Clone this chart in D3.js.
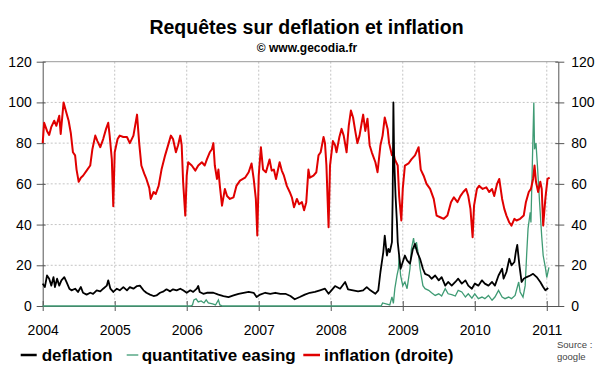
<!DOCTYPE html>
<html>
<head>
<meta charset="utf-8">
<script src="https://cdn.jsdelivr.net/npm/d3@7"></script>
<style>
  body { margin: 0; background: #fff; }
  svg { display: block; font-family: Arial, "Liberation Sans", sans-serif; }
</style>
</head>
<body>
<div id="chart"></div>
<script>
// ---- data (decimal year, value) ----
const years = [2004, 2005, 2006, 2007, 2008, 2009, 2010, 2011];
const yTicks = [0, 20, 40, 60, 80, 100, 120];

const inflation = [
  [2004.00,80],[2004.02,90],[2004.06,86],[2004.09,84],[2004.12,88],[2004.16,91],[2004.19,88.5],[2004.23,93.5],[2004.25,84.5],[2004.29,100],
  [2004.32,96],[2004.36,91],[2004.39,85],[2004.42,75.5],[2004.45,74],[2004.47,67],[2004.50,61],[2004.53,63],[2004.56,64],[2004.61,66.5],
  [2004.66,69],[2004.69,77],[2004.73,83.7],[2004.76,81],[2004.80,78],[2004.84,82],[2004.88,87],[2004.91,90],[2004.93,83.7],[2004.96,72],
  [2004.98,49],[2005.00,75.5],[2005.04,82],[2005.07,83.7],[2005.12,83],[2005.17,83],[2005.21,80],[2005.26,83.7],[2005.31,94],[2005.34,80],
  [2005.37,69],[2005.41,65],[2005.44,62.4],[2005.48,58],[2005.50,52.6],[2005.54,56],[2005.57,55],[2005.61,59],[2005.65,67],[2005.70,74],
  [2005.75,80],[2005.78,83.7],[2005.81,82],[2005.85,75.5],[2005.88,79],[2005.91,83.7],[2005.93,79],[2005.95,61],[2005.98,44.4],[2006.00,64],
  [2006.02,70.6],[2006.07,69],[2006.12,66.5],[2006.16,69],[2006.21,70.6],[2006.25,69],[2006.28,72],[2006.32,75.5],[2006.35,77],[2006.37,80],
  [2006.39,69],[2006.42,62.4],[2006.44,67],[2006.46,59],[2006.49,49.3],[2006.53,57.5],[2006.56,54],[2006.60,52.6],[2006.65,53.4],[2006.69,59],
  [2006.74,61.6],[2006.81,63],[2006.86,65.7],[2006.90,70],[2006.93,62.4],[2006.96,52.6],[2006.98,34.6],[2007.00,64],[2007.03,78],[2007.06,67],
  [2007.10,65.7],[2007.15,72],[2007.18,66.5],[2007.21,67],[2007.24,62.4],[2007.29,70.6],[2007.32,66.5],[2007.35,64],[2007.39,59],[2007.43,56],
  [2007.46,53.4],[2007.49,48.5],[2007.53,52.6],[2007.56,50],[2007.60,51],[2007.63,47],[2007.66,51],[2007.69,67],[2007.71,63],[2007.76,64],
  [2007.80,65.7],[2007.83,74],[2007.86,75.5],[2007.90,83],[2007.92,80],[2007.94,69],[2007.97,38.7],[2007.99,69],[2008.03,81],[2008.06,79],
  [2008.08,75.5],[2008.12,83],[2008.15,87],[2008.18,83.7],[2008.22,75.5],[2008.25,88.5],[2008.28,96],[2008.31,92.6],[2008.34,86],[2008.37,80],
  [2008.40,83.7],[2008.43,90],[2008.45,94],[2008.48,86],[2008.51,92],[2008.54,79],[2008.57,75.5],[2008.62,70.6],[2008.65,65.7],[2008.69,79],
  [2008.72,83.7],[2008.75,92.6],[2008.79,87],[2008.81,80],[2008.85,74],[2008.87,75.5],[2008.89,72],[2008.93,69],[2008.95,54],[2008.98,42],
  [2009.00,57.5],[2009.03,69],[2009.08,70],[2009.12,72],[2009.17,74],[2009.22,78],[2009.25,67],[2009.29,64],[2009.33,60],[2009.38,57.5],
  [2009.43,52.6],[2009.47,44.4],[2009.52,43.6],[2009.57,42.8],[2009.62,44.4],[2009.67,51],[2009.71,53.4],[2009.76,51],[2009.80,54],[2009.84,56],
  [2009.88,57.5],[2009.91,54],[2009.94,47.7],[2009.97,33.8],[2009.99,49.3],[2010.03,57.5],[2010.06,59],[2010.11,57.5],[2010.16,58.3],[2010.20,56],
  [2010.24,57.5],[2010.27,54],[2010.31,60],[2010.34,62.4],[2010.38,52.6],[2010.41,47.7],[2010.44,44.4],[2010.48,41],[2010.51,39.5],[2010.55,42.8],
  [2010.58,42],[2010.63,42.8],[2010.68,44.4],[2010.71,51],[2010.75,56],[2010.78,57.5],[2010.81,62.4],[2010.83,69],[2010.85,61],[2010.88,56],
  [2010.91,61],[2010.93,57.5],[2010.95,39.5],[2010.98,52.6],[2011.01,62.4],[2011.04,63]
];

const deflation = [
  [2004.00,11],[2004.03,9.3],[2004.06,15],[2004.09,13.4],[2004.12,10],[2004.15,14.2],[2004.17,9.3],[2004.20,13.4],[2004.23,10],[2004.26,12.6],
  [2004.30,14.2],[2004.33,11.8],[2004.37,8.5],[2004.40,7.7],[2004.45,8.5],[2004.49,6.9],[2004.53,9.3],[2004.56,6.5],[2004.61,5.6],[2004.66,6.5],
  [2004.70,6],[2004.75,7.7],[2004.80,7.2],[2004.84,8.5],[2004.89,10],[2004.91,12.6],[2004.94,8.5],[2004.98,6.9],[2005.03,8.5],[2005.07,7.7],
  [2005.12,9.3],[2005.17,7.7],[2005.21,9.3],[2005.26,8.5],[2005.31,9.8],[2005.35,10],[2005.40,7.7],[2005.44,6.5],[2005.49,5.6],[2005.54,4.9],
  [2005.58,5.2],[2005.63,6.5],[2005.68,7.2],[2005.72,8.2],[2005.77,7.2],[2005.81,8.2],[2005.86,7.7],[2005.91,8.5],[2005.95,7.7],[2006.00,6.5],
  [2006.05,7.7],[2006.09,6.9],[2006.14,8.5],[2006.16,9.8],[2006.18,6.9],[2006.23,6],[2006.28,6.5],[2006.32,6.5],[2006.37,6.5],[2006.44,5.6],
  [2006.51,4.9],[2006.58,4.4],[2006.65,5.2],[2006.72,6],[2006.79,6.5],[2006.86,6.9],[2006.93,6.5],[2006.97,4.4],[2007.02,5.6],[2007.09,6.5],
  [2007.16,6],[2007.23,6.5],[2007.30,6],[2007.37,6],[2007.44,4.9],[2007.50,3.3],[2007.57,4.4],[2007.64,5.6],[2007.71,6.5],[2007.78,6.9],
  [2007.85,7.7],[2007.92,8.5],[2007.97,6],[2008.01,7.7],[2008.06,9.8],[2008.13,8.5],[2008.20,11.8],[2008.24,8.2],[2008.31,7.7],[2008.38,7.2],
  [2008.45,7.7],[2008.50,9.3],[2008.55,7.7],[2008.62,6],[2008.66,7.7],[2008.69,16.7],[2008.73,26.5],[2008.75,34.6],[2008.78,24.8],[2008.80,28],
  [2008.82,26.5],[2008.85,31.4],[2008.86,54],[2008.87,100],[2008.88,73],[2008.90,54],[2008.92,40.5],[2008.93,31.4],[2008.95,24.8],[2008.97,18.3],
  [2009.00,21.6],[2009.03,24.8],[2009.06,22.4],[2009.10,20.8],[2009.14,28],[2009.17,30.5],[2009.20,26.5],[2009.24,23.2],[2009.28,18.3],[2009.31,15.8],
  [2009.36,15],[2009.40,13.4],[2009.45,15],[2009.50,12.6],[2009.54,14.2],[2009.59,10],[2009.63,11.8],[2009.68,10],[2009.73,11.8],[2009.77,13.4],
  [2009.82,11],[2009.87,12.6],[2009.91,10],[2009.96,8.5],[2010.00,11],[2010.05,10],[2010.10,12.6],[2010.14,11],[2010.19,10],[2010.24,11.8],
  [2010.28,10],[2010.33,15],[2010.38,18.3],[2010.40,13.4],[2010.44,16.7],[2010.48,23.2],[2010.51,20],[2010.55,21.6],[2010.57,26.5],[2010.59,30],
  [2010.62,20],[2010.65,11.8],[2010.68,13.4],[2010.72,14.2],[2010.77,15],[2010.81,15.8],[2010.86,14.2],[2010.91,11.8],[2010.95,9.3],[2010.98,7.7],
  [2011.02,8.8]
];

const qe = [
  [2004.00,0],[2006.05,0],[2006.08,0.5],[2006.10,3],[2006.13,3.5],[2006.16,2],[2006.20,2.5],[2006.24,1.5],[2006.27,3],[2006.30,1.5],
  [2006.36,1],[2006.40,0.5],[2006.44,3],[2006.46,0.5],[2006.50,0],[2008.70,0],[2008.72,1.5],[2008.82,0.5],[2008.85,4.5],[2008.87,1.3],
  [2008.89,8.5],[2008.92,15],[2008.94,18.3],[2008.95,24.8],[2008.97,15],[2009.00,10],[2009.03,11.8],[2009.06,8.5],[2009.10,18.3],[2009.12,28],
  [2009.15,33.3],[2009.17,28],[2009.19,31.4],[2009.22,24.8],[2009.24,18.3],[2009.28,10],[2009.31,8.5],[2009.36,7.7],[2009.40,6.5],[2009.45,5.2],
  [2009.50,6],[2009.54,4.9],[2009.59,8.5],[2009.63,6],[2009.68,5.6],[2009.73,4.9],[2009.77,7.7],[2009.82,6.9],[2009.87,4.4],[2009.91,6],
  [2009.96,3.9],[2010.00,6],[2010.05,3.6],[2010.10,4.4],[2010.14,3.6],[2010.19,5.2],[2010.24,2.8],[2010.28,4.4],[2010.33,7.7],[2010.38,4.4],
  [2010.42,3.6],[2010.47,4.4],[2010.51,3.6],[2010.56,5.2],[2010.61,11.8],[2010.63,6.9],[2010.67,4.4],[2010.70,10],[2010.72,24.8],[2010.74,38],
  [2010.77,46],[2010.78,41],[2010.80,70.6],[2010.82,100],[2010.83,77],[2010.85,80],[2010.87,69],[2010.90,51],[2010.93,34],[2010.95,24.8],
  [2010.98,19],[2011.00,14],[2011.03,19]
];

const seriesNames = ["deflation", "quantitative easing", "inflation (droite)"];
const seriesColors = ["#000000", "#3f9b74", "#e00000"];

// ---- layout ----
const W = 600, H = 372;
const plotLeft = 42.7, plotRight = 558.3, plotTop = 61.7, plotBottom = 306;

const svg = d3.select("#chart").append("svg")
  .attr("width", W).attr("height", H);

const x = d3.scaleLinear().domain([2004, 2011.16]).range([plotLeft, plotRight]);
const y = d3.scaleLinear().domain([0, 120]).range([plotBottom, plotTop]);
const yR = d3.scaleLinear().domain([0, 120]).range([plotBottom, plotTop]);

// title
svg.append("text")
  .attr("x", 306.5).attr("y", 34)
  .attr("text-anchor", "middle")
  .style("font-size", "19.5px").style("font-weight", "bold")
  .text("Requêtes sur deflation et inflation");
svg.append("text")
  .attr("x", 307).attr("y", 51.5)
  .attr("text-anchor", "middle")
  .style("font-size", "12px").style("font-weight", "bold")
  .text("© www.gecodia.fr");

// grid
const grid = svg.append("g").attr("stroke", "#c4c4c4").attr("stroke-dasharray", "2,2");
grid.selectAll(".h").data(yTicks.filter(d => d > 0 && d < 120)).enter()
  .append("line")
  .attr("x1", plotLeft).attr("x2", plotRight)
  .attr("y1", d => y(d)).attr("y2", d => y(d));
grid.selectAll(".v").data(years.slice(1)).enter()
  .append("line")
  .attr("x1", d => x(d)).attr("x2", d => x(d))
  .attr("y1", plotTop).attr("y2", plotBottom);

// top frame
svg.append("line")
  .attr("x1", plotLeft).attr("x2", plotRight).attr("y1", plotTop).attr("y2", plotTop)
  .attr("stroke", "#9a9a9a");

// axes (drawn before the series so the green line sits on the baseline)
function styleAxis(g) {
  g.select(".domain").attr("stroke", "#555");
  g.selectAll(".tick line").attr("stroke", "#555");
  g.selectAll(".tick text")
    .attr("fill", "#000")
    .style("font-size", "14px")
    .style("font-family", "Arial, 'Liberation Sans', sans-serif");
}

svg.append("g")
  .attr("transform", `translate(${plotLeft},0)`)
  .call(d3.axisLeft(y).tickValues(yTicks).tickSize(6).tickSizeOuter(0).tickPadding(5))
  .call(styleAxis)
  .call(g => g.selectAll(".tick line").attr("x1", 3));

svg.append("g")
  .attr("transform", `translate(${plotRight},0)`)
  .call(d3.axisRight(yR).tickValues(yTicks).tickSize(6).tickSizeOuter(0).tickPadding(7))
  .call(styleAxis)
  .call(g => g.selectAll(".tick line").attr("x1", -3));

svg.append("g")
  .attr("transform", `translate(0,${plotBottom})`)
  .call(d3.axisBottom(x).tickValues(years).tickFormat(d3.format("d"))
    .tickSize(5).tickSizeOuter(0).tickPadding(14))
  .call(styleAxis)
  .call(g => g.selectAll(".tick line").attr("y1", -5));

// series
const line = d3.line().x(d => x(d[0])).y(d => y(d[1]));
svg.append("path").datum(qe)
  .attr("fill", "none").attr("stroke", seriesColors[1]).attr("stroke-width", 1.3)
  .attr("d", line);
svg.append("path").datum(inflation)
  .attr("fill", "none").attr("stroke", seriesColors[2]).attr("stroke-width", 2)
  .attr("stroke-linejoin", "round")
  .attr("d", d3.line().x(d => x(d[0])).y(d => yR(d[1])));
svg.append("path").datum(deflation)
  .attr("fill", "none").attr("stroke", seriesColors[0]).attr("stroke-width", 1.8)
  .attr("stroke-linejoin", "round")
  .attr("d", line);

// legend
const legendX = [[20.7, 36.7, 41.7], [126.7, 138.3, 141.7], [303.3, 320, 324]];
const legend = svg.append("g");
seriesNames.forEach((name, i) => {
  const [a, b, t] = legendX[i];
  legend.append("line")
    .attr("x1", a).attr("x2", b).attr("y1", 355).attr("y2", 355)
    .attr("stroke", seriesColors[i]).attr("stroke-width", i === 1 ? 1.3 : 2.5);
  legend.append("text")
    .attr("x", t).attr("y", 361)
    .style("font-size", "17px").style("font-weight", "bold")
    .text(name);
});

svg.append("text")
  .attr("x", 557).attr("y", 348)
  .attr("fill", "#444").style("font-size", "9.5px")
  .text("Source :");
svg.append("text")
  .attr("x", 557).attr("y", 360)
  .attr("fill", "#444").style("font-size", "9.5px")
  .text("google");
</script>
</body>
</html>
